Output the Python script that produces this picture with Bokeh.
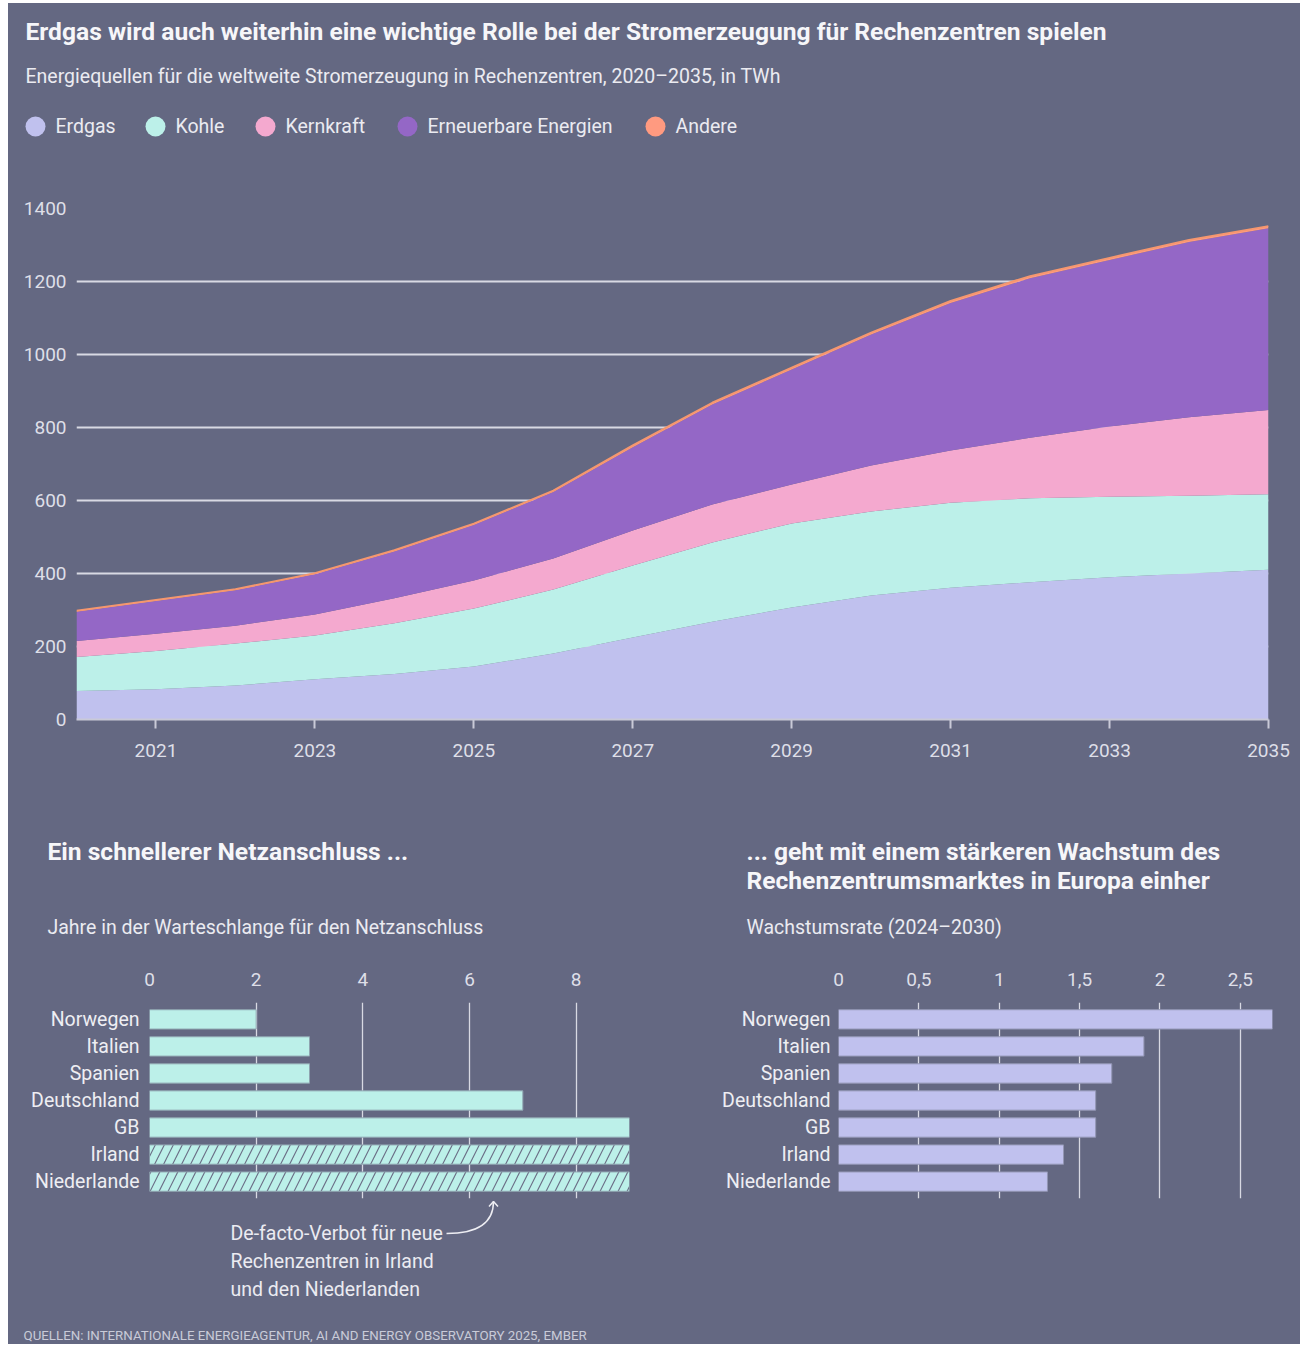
from bokeh.plotting import figure
from bokeh.models import ColumnDataSource, Range1d, FactorRange, FixedTicker
from bokeh.layouts import column, row
from bokeh.embed import file_html
from bokeh.resources import INLINE
from bokeh.transform import stack
from bokeh.core.properties import value

# ---------------- data ----------------
years = list(range(2020, 2036))
erdgas = [78, 83, 93, 110, 125, 145, 181, 225, 268, 307, 340, 361, 376, 390, 400, 410]
kohle = [93, 105, 115, 120, 139, 159, 175, 197, 217, 230, 230, 233, 230, 220, 213, 207]
kernkraft = [44, 47, 49, 58, 68, 77, 85, 96, 104, 107, 126, 143, 166, 193, 215, 231]
erneuerbare = [80, 90, 97, 110, 128, 152, 182, 228, 274, 315, 359, 404, 437, 456, 480, 498]
andere = [3, 3, 3, 3, 4, 4, 4, 5, 5, 5, 5, 6, 6, 6, 6, 6]

series_keys = ["erdgas", "kohle", "kernkraft", "erneuerbare", "andere"]
series_labels = ["Erdgas", "Kohle", "Kernkraft", "Erneuerbare Energien", "Andere"]
x_ticks = [2021, 2023, 2025, 2027, 2029, 2031, 2033, 2035]
y_ticks = [0, 200, 400, 600, 800, 1000, 1200, 1400]

laender = ["Norwegen", "Italien", "Spanien", "Deutschland", "GB", "Irland", "Niederlande"]
wartejahre = [2, 3, 3, 7, 9, 9, 9]
verbot = [False, False, False, False, False, True, True]
wachstum = [2.7, 1.9, 1.7, 1.6, 1.6, 1.4, 1.3]
warte_ticks = [0, 2, 4, 6, 8]
wachs_ticks = [0, 0.5, 1, 1.5, 2, 2.5]
wachs_tick_labels = {0.5: "0,5", 1.5: "1,5", 2.5: "2,5"}

# ---------------- styles ----------------
FONT = "Roboto"
BG = "#646882"
COLORS = ["#c0c1ee", "#bcf0e9", "#f4a9cf", "#9467c6", "#ff9a80"]
LINE_ANDERE = "#f5976e"
TXT = "#f6f6f9"
SUB = "#ebebf1"
TICK = "#dedfe8"
GRID = "#d8d9e3"
TITLE_PX = 24.6
SUB_PX = 19.5

W = 1292
OX, OY = 8, 3          # reference offset of the coloured panel
BOTTOM = 1344


def style_fig(p):
    p.background_fill_color = None
    p.border_fill_color = None
    p.outline_line_color = None
    p.frame_align = False


def text_fig(x0, x1, y0, y1):
    """A plain panel whose data coordinates are the reference pixel positions."""
    p = figure(width=x1 - x0, height=y1 - y0, x_range=Range1d(x0, x1), y_range=Range1d(y1, y0),
               x_axis_type=None, y_axis_type=None, output_backend="svg", toolbar_location=None,
               min_border_left=0, min_border_right=0, min_border_top=0, min_border_bottom=0)
    style_fig(p)
    p.grid.visible = False
    return p


def txt(p, x, y, s, size, color, bold=False, align="left", baseline="alphabetic"):
    p.text(x=[x], y=[y], text=[s], text_font=value(FONT), text_font_size=value(f"{size}px"),
           text_font_style="bold" if bold else "normal", text_color=color,
           text_align=align, text_baseline=baseline)


# ================= header =================
hdr = text_fig(OX, OX + W, OY, 188)
txt(hdr, 25, 31, "Erdgas wird auch weiterhin eine wichtige Rolle bei der Stromerzeugung für Rechenzentren spielen",
    TITLE_PX, TXT, bold=True)
txt(hdr, 25, 76, "Energiequellen für die weltweite Stromerzeugung in Rechenzentren, 2020–2035, in TWh",
    SUB_PX, SUB)
legend_x = [35, 155, 265, 407, 655]
hdr.scatter(x=legend_x, y=[126] * len(legend_x), marker="circle", size=20,
            fill_color=COLORS, line_color=None)
hdr.text(x=[lx + 20 for lx in legend_x], y=[126] * len(legend_x), text=series_labels,
         text_font=value(FONT), text_font_size=value(f"{SUB_PX}px"), text_color=SUB,
         text_baseline="middle")

# ================= top area chart =================
HA = 800 - 188
FA_L, FA_R, FA_T, FA_B = 76 - OX, OX + W - 1268, 208 - 188, 719 - 188

src = ColumnDataSource(dict(year=years, erdgas=erdgas, kohle=kohle, kernkraft=kernkraft,
                            erneuerbare=erneuerbare, andere=andere))

pA = figure(width=W, height=HA, x_range=Range1d(2020, 2035), y_range=Range1d(0, 1400),
            output_backend="svg", toolbar_location=None,
            min_border_left=FA_L, min_border_right=FA_R,
            min_border_top=FA_T, min_border_bottom=HA - FA_B)
style_fig(pA)
pA.varea_stack(stackers=series_keys, x="year", color=COLORS, source=src)
pA.line(x="year", y=stack(*series_keys), source=src, line_color=LINE_ANDERE, line_width=1.8)

pA.yaxis.ticker = FixedTicker(ticks=y_ticks)
pA.ygrid.ticker = FixedTicker(ticks=y_ticks)
pA.ygrid.grid_line_color = GRID
pA.ygrid.grid_line_width = 2
pA.xgrid.grid_line_color = None
pA.yaxis.axis_line_color = None
pA.yaxis.major_tick_line_color = None
pA.yaxis.minor_tick_line_color = None
pA.yaxis.major_tick_out = 0
pA.yaxis.major_tick_in = 0
pA.yaxis.major_label_standoff = 10
pA.xaxis.ticker = FixedTicker(ticks=x_ticks)
pA.xaxis.axis_line_color = "#c9cad8"
pA.xaxis.axis_line_width = 2
pA.xaxis.major_tick_line_color = "#c9cad8"
pA.xaxis.major_tick_line_width = 2
pA.xaxis.major_tick_out = 9
pA.xaxis.major_tick_in = 0
pA.xaxis.minor_tick_line_color = None
pA.xaxis.major_label_standoff = 15
for a in (pA.xaxis[0], pA.yaxis[0]):
    a.major_label_text_font = FONT
    a.major_label_text_font_size = "19px"
    a.major_label_text_color = TICK

# ================= bottom =================
N = len(laender)
PAD = 0.125
FB_T, FB_H = 1002 - 960, 196


def make_bar_fig(width, height, left, right, xmax, bottom):
    p = figure(width=width, height=height, x_range=Range1d(0, xmax),
               y_range=FactorRange(factors=list(reversed(laender)), range_padding=2 * PAD / N),
               x_axis_location="above", output_backend="svg", toolbar_location=None,
               min_border_left=left, min_border_right=right, min_border_top=FB_T,
               min_border_bottom=bottom)
    style_fig(p)
    p.ygrid.grid_line_color = None
    p.xgrid.grid_line_color = GRID
    p.xgrid.grid_line_width = 1.3
    for a in (p.xaxis[0], p.yaxis[0]):
        a.axis_line_color = None
        a.major_tick_line_color = None
        a.minor_tick_line_color = None
        a.major_tick_out = 0
        a.major_tick_in = 0
        a.major_label_text_font = FONT
    p.xaxis.major_label_text_font_size = "19px"
    p.yaxis.major_label_text_font_size = f"{SUB_PX}px"
    p.xaxis.major_label_text_color = TICK
    p.yaxis.major_label_text_color = "#eeeef3"
    p.xaxis.major_label_standoff = 17
    p.yaxis.major_label_standoff = 10
    return p


# ---- left column ----
XL0, XL1 = OX, 698
hdrB = text_fig(XL0, XL1, 800, 960)
txt(hdrB, 47, 851, "Ein schnellerer Netzanschluss ...", TITLE_PX, TXT, bold=True)
txt(hdrB, 47, 927, "Jahre in der Warteschlange für den Netzanschluss", SUB_PX, SUB)

WB = XL1 - XL0
HB = 1199 - 960
pB = make_bar_fig(WB, HB, 149 - XL0, XL1 - 629, 9, HB - FB_T - FB_H)
pB.xaxis.ticker = FixedTicker(ticks=warte_ticks)
pB.xgrid.ticker = FixedTicker(ticks=warte_ticks)

normal = ColumnDataSource(dict(land=[l for l, v in zip(laender, verbot) if not v],
                               jahre=[j for j, v in zip(wartejahre, verbot) if not v]))
banned = ColumnDataSource(dict(land=[l for l, v in zip(laender, verbot) if v],
                               jahre=[j for j, v in zip(wartejahre, verbot) if v]))
pB.hbar(y="land", right="jahre", left=0, height=0.715, source=normal,
        fill_color=COLORS[1], line_color="#8fa4b0", line_width=1)
pB.hbar(y="land", right="jahre", left=0, height=0.715, source=banned,
        fill_color=COLORS[1], line_color="#8fa4b0", line_width=1,
        hatch_pattern="/", hatch_color="#6c7188", hatch_scale=18, hatch_weight=1.2)

pB2 = text_fig(XL0, XL1, 1199, BOTTOM)
pB2.quadratic(x0=[446], y0=[1233], x1=[493], y1=[1201], cx=[493], cy=[1233],
              line_color="#eeeef3", line_width=1.5)
pB2.multi_line(xs=[[488.5, 493, 497.5]], ys=[[1206, 1201, 1206]],
               line_color="#eeeef3", line_width=1.5)
for t, yc in zip(["De-facto-Verbot für neue", "Rechenzentren in Irland", "und den Niederlanden"],
                 [1233, 1261, 1289]):
    txt(pB2, 230, yc, t, SUB_PX, SUB, baseline="middle")
txt(pB2, 23, 1335, "QUELLEN: INTERNATIONALE ENERGIEAGENTUR, AI AND ENERGY OBSERVATORY 2025, EMBER",
    13.3, "#c9cbd8")

# ---- right column ----
XR0, XR1 = 698, OX + W
hdrC = text_fig(XR0, XR1, 800, 960)
txt(hdrC, 746, 851, "... geht mit einem stärkeren Wachstum des", TITLE_PX, TXT, bold=True)
txt(hdrC, 746, 880, "Rechenzentrumsmarktes in Europa einher", TITLE_PX, TXT, bold=True)
txt(hdrC, 746, 927, "Wachstumsrate (2024–2030)", SUB_PX, SUB)

WC = XR1 - XR0
HC = BOTTOM - 960
pC = make_bar_fig(WC, HC, 838 - XR0, XR1 - 1272, 2.7, HC - FB_T - FB_H)
pC.xaxis.ticker = FixedTicker(ticks=wachs_ticks)
pC.xgrid.ticker = FixedTicker(ticks=wachs_ticks)
pC.xaxis.major_label_overrides = wachs_tick_labels
pC.yaxis.major_label_standoff = 8
srcC = ColumnDataSource(dict(land=laender, rate=wachstum))
pC.hbar(y="land", right="rate", left=0, height=0.715, source=srcC,
        fill_color=COLORS[0], line_color="#9396b4", line_width=1)

layout = column(hdr, pA, row(column(hdrB, pB, pB2), column(hdrC, pC)),
                margin=(OY, 0, 0, OX), styles={"background-color": BG})
open("out.html", "w").write(file_html(layout, INLINE))
